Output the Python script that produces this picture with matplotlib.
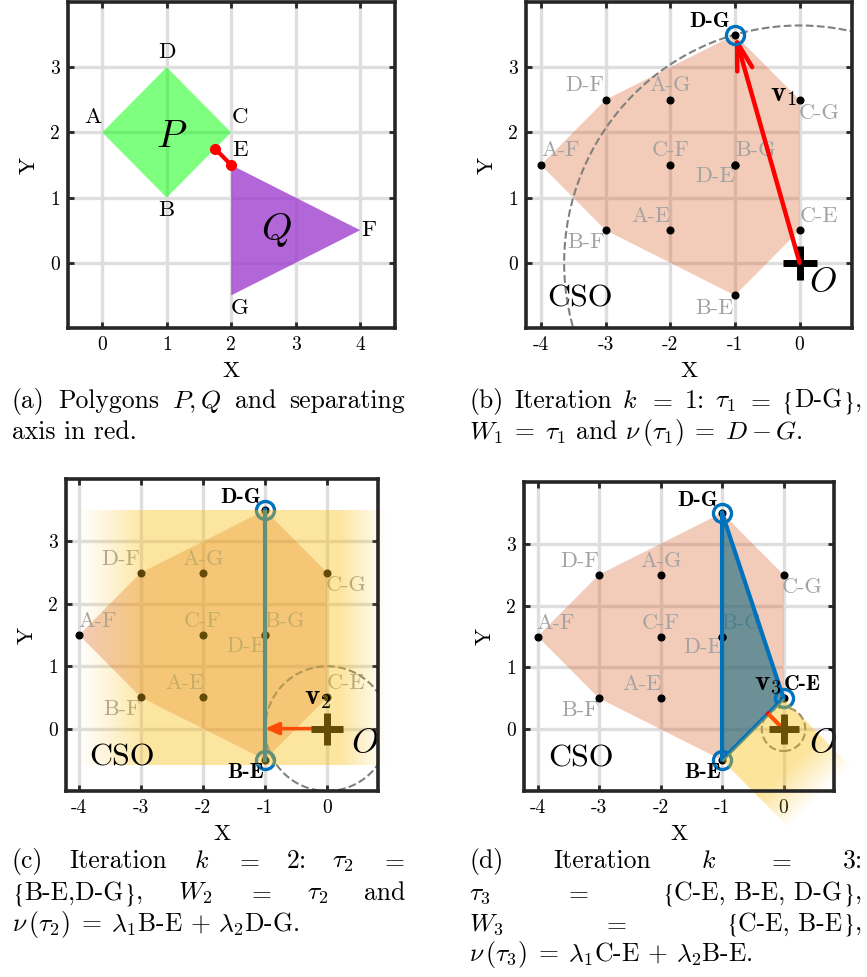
import numpy as np
import matplotlib.pyplot as plt
from matplotlib.patches import Polygon, Circle
from matplotlib.transforms import IdentityTransform

plt.rcParams['font.family'] = 'cmr10'
plt.rcParams['mathtext.fontset'] = 'cm'
plt.rcParams['axes.unicode_minus'] = False

# polygon P and Q vertices (panel a)
p_names = ['A', 'B', 'C', 'D']
p_x = [0, 1, 2, 1]
p_y = [2, 1, 2, 3]
q_names = ['E', 'F', 'G']
q_x = [2, 4, 2]
q_y = [1.5, 0.5, -0.5]

# separating axis end points
sep_x = [1.75, 2.0]
sep_y = [1.75, 1.5]

# CSO (Minkowski difference P - Q)
cso = {}
for pn, px, py in zip(p_names, p_x, p_y):
    for qn, qx, qy in zip(q_names, q_x, q_y):
        cso[pn + '-' + qn] = (px - qx, py - qy)
hull_order = ['A-F', 'D-F', 'D-G', 'C-G', 'C-E', 'B-E', 'B-F']

# simplex of each iteration
simplex_b = ['D-G']
simplex_c = ['D-G', 'B-E']
simplex_d = ['D-G', 'B-E', 'C-E']
closest_c = (-1.0, 0.0)
closest_d = (-0.25, 0.25)

# label offsets
lab_a = {'A': (-0.14, 0.23), 'B': (0, -0.2), 'C': (0.14, 0.23), 'D': (0, 0.23),
         'E': (0.13, 0.23), 'F': (0.13, 0), 'G': (0.14, -0.2)}
lab_cso = {'D-F': (-0.32, 0.22), 'A-G': (0, 0.22), 'A-F': (0.3, 0.22),
           'C-F': (0, 0.22), 'B-G': (0.32, 0.22), 'D-E': (-0.31, -0.18),
           'A-E': (-0.3, 0.22), 'C-E': (0.3, 0.22), 'B-F': (-0.3, -0.19),
           'C-G': (0.31, -0.2), 'B-E': (-0.31, -0.2), 'D-G': (-0.39, 0.2)}

BLUE = '#0072BD'
GRAYTXT = '0.64'
W, H = 867, 977

fig = plt.figure(figsize=(W / 100, H / 100), dpi=100)


def make_ax(left, top, right, bottom, xlim, xt):
    ax = fig.add_axes([left / W, 1 - bottom / H, (right - left) / W, (bottom - top) / H])
    ax.set_xlim(xlim)
    ax.set_ylim(-1, 4)
    ax.set_xticks(xt)
    ax.set_xticklabels([str(v) for v in xt])
    ax.set_yticks([0, 1, 2, 3])
    ax.set_yticklabels(['0', '1', '2', '3'])
    ax.grid(True, color='0.87', lw=2.4)
    ax.set_axisbelow(True)
    ax.tick_params(direction='in', length=4, width=2, top=True, right=True,
                   labelsize=14, pad=6, color='0.15')
    for s in ax.spines.values():
        s.set_linewidth(2.6)
        s.set_color('0.15')
        s.set_zorder(4)
    ax.set_xlabel('X', fontsize=16.5, labelpad=5)
    ax.set_ylabel('Y', fontsize=16.5, labelpad=8)
    return ax


def draw_cso(ax, bold):
    ax.add_patch(Polygon([cso[n] for n in hull_order], closed=True,
                         facecolor=(0.85, 0.325, 0.098), alpha=0.3,
                         edgecolor='none', zorder=0.8))
    xs = [v[0] for v in cso.values()]
    ys = [v[1] for v in cso.values()]
    ax.plot(xs, ys, 'o', color='k', ms=4.8, zorder=2)
    for n, (x, y) in cso.items():
        dx, dy = lab_cso[n]
        if n in bold:
            ax.text(x + dx, y + dy, n, family='cmb10', fontsize=15.5,
                    ha='center', va='center', zorder=3)
        else:
            ax.text(x + dx, y + dy, n, color=GRAYTXT, fontsize=16,
                    ha='center', va='center', zorder=0.9)


# ---------------- (a)
ax = make_ax(68, 2, 395, 328, (-0.53, 4.54), [0, 1, 2, 3, 4])
ax.add_patch(Polygon(list(zip(p_x, p_y)), closed=True, facecolor=(0, 1, 0),
                     alpha=0.5, edgecolor='none'))
ax.add_patch(Polygon(list(zip(q_x, q_y)), closed=True, facecolor='#9933cc',
                     alpha=0.75, edgecolor='none'))
ax.plot(sep_x, sep_y, '-o', color='r', lw=3, ms=7)
for n, x, y in zip(p_names + q_names, p_x + q_x, p_y + q_y):
    dx, dy = lab_a[n]
    ax.text(x + dx, y + dy, n, fontsize=16.5, ha='center', va='center')
ax.text(1.08, 1.93, '$P$', fontsize=28, ha='center', va='center')
ax.text(2.7, 0.5, '$Q$', fontsize=28, ha='center', va='center')

# ---------------- (b)
ax = make_ax(526, 2, 852, 328, (-4.23, 0.81), [-4, -3, -2, -1, 0])
draw_cso(ax, simplex_b)
ax.add_patch(Circle((0, 0), np.hypot(*cso['D-G']), fill=False, ls='--',
                    color='0.5', lw=1.5, zorder=1.5))
ax.annotate('', xy=cso['D-G'], xytext=(0, 0),
            arrowprops=dict(arrowstyle='->,head_length=1.0,head_width=0.28',
                            color='r', lw=3.2, shrinkA=0, shrinkB=0,
                            mutation_scale=20), zorder=2.1)
ax.plot(*cso['D-G'], 'o', mfc='none', mec=BLUE, ms=13, mew=2.4, zorder=2.2)
ax.plot(0, 0, '+', color='k', ms=24, mew=5, zorder=2)
ax.text(-0.24, 2.57, r'$\mathbf{v}_1$', fontsize=21, ha='center', va='center')
ax.text(-3.39, -0.55, 'CSO', fontsize=23, ha='center', va='center')
ax.text(0.36, -0.3, '$O$', fontsize=25, ha='center', va='center')

# ---------------- (c)
ax = make_ax(66, 479, 378, 791, (-4.21, 0.82), [-4, -3, -2, -1, 0])
draw_cso(ax, simplex_c)
ax.add_patch(Circle((0, 0), 1.0, fill=False, ls='--', color='0.5', lw=1.5, zorder=1.5))
sx = [cso[n][0] for n in simplex_c]
sy = [cso[n][1] for n in simplex_c]
ax.plot(sx, sy, '-', color=BLUE, lw=3, zorder=2)
ax.plot(sx, sy, 'o', mfc='none', mec=BLUE, ms=13, mew=2.4, zorder=2.05)
ax.annotate('', xy=closest_c, xytext=(0, 0),
            arrowprops=dict(arrowstyle='-|>,head_length=0.4,head_width=0.18',
                            color='r', lw=2.5, shrinkA=0, shrinkB=0,
                            mutation_scale=20), zorder=2)
ax.plot(0, 0, '+', color='k', ms=23, mew=5, zorder=2)
gx = np.linspace(-4.0, 1.0, 500)
alpha_c = 0.4 * np.clip((gx + 4.0) / 1.1, 0, 1) * np.clip((0.95 - gx) / 0.75, 0, 1)
img = np.zeros((2, gx.size, 4))
img[..., 0], img[..., 1], img[..., 2] = 0.98, 0.75, 0.07
img[..., 3] = alpha_c
ax.imshow(img, extent=[-4.0, 1.0, -0.58, 3.5], origin='lower', aspect='auto',
          interpolation='bilinear', zorder=2.2, clip_on=False)
ax.text(-0.15, 0.49, r'$\mathbf{v}_2$', fontsize=21, ha='center', va='center', zorder=3)
ax.text(-3.31, -0.47, 'CSO', fontsize=23, ha='center', va='center', zorder=3)
ax.text(0.61, -0.23, '$O$', fontsize=25, ha='center', va='center', zorder=3)
ax.set_xlim(-4.21, 0.82)
ax.set_ylim(-1, 4)

# ---------------- (d)
ax = make_ax(524, 482, 834, 791, (-4.22, 0.82), [-4, -3, -2, -1, 0])
draw_cso(ax, simplex_d)
tri = [cso[n] for n in simplex_d]
ax.add_patch(Polygon(tri, closed=True, facecolor=(0.08, 0.41, 0.5), alpha=0.6,
                     edgecolor='none', zorder=1))
tx = [v[0] for v in tri] + [tri[0][0]]
ty = [v[1] for v in tri] + [tri[0][1]]
ax.plot(tx, ty, '-', color=BLUE, lw=3, zorder=2)
ax.plot(tx[:-1], ty[:-1], 'o', mfc='none', mec=BLUE, ms=13, mew=2.4, zorder=2.05)
ax.add_patch(Circle((0, 0), np.hypot(*closest_d), fill=False, ls='--', color='0.5',
                    lw=1.5, zorder=1.5))
ax.plot([0, closest_d[0]], [0, closest_d[1]], '-', color='r', lw=3, zorder=2)
ax.plot(0, 0, '+', color='k', ms=22, mew=5, zorder=2)
b0 = np.array(cso['B-E'])
c0 = np.array(cso['C-E'])
ed = (c0 - b0) / np.hypot(*(c0 - b0))
nd = np.array([ed[1], -ed[0]])
xx, yy = np.meshgrid(np.linspace(-1.6, 1.4, 600), np.linspace(-2.0, 0.7, 600))
u = (xx - b0[0]) * ed[0] + (yy - b0[1]) * ed[1]
v = (xx - b0[0]) * nd[0] + (yy - b0[1]) * nd[1]
L = np.hypot(*(c0 - b0))
alpha_d = 0.42 * ((u >= 0) & (u <= L) & (v >= 0)) * np.clip((1.55 - v) / 0.7, 0, 1)
img = np.zeros(xx.shape + (4,))
img[..., 0], img[..., 1], img[..., 2] = 0.98, 0.75, 0.07
img[..., 3] = alpha_d
ax.imshow(img, extent=[-1.6, 1.4, -2.0, 0.7], origin='lower', aspect='auto',
          interpolation='bilinear', zorder=2.2, clip_on=False)
ax.text(-0.26, 0.74, r'$\mathbf{v}_3$', fontsize=21, ha='center', va='center', zorder=3)
ax.text(-3.29, -0.48, 'CSO', fontsize=23, ha='center', va='center', zorder=3)
ax.text(0.64, -0.23, '$O$', fontsize=25, ha='center', va='center', zorder=3)
ax.set_xlim(-4.22, 0.82)
ax.set_ylim(-1, 4)

# ---------------- captions
CAP = 18.5
renderer = fig.canvas.get_renderer()
LB = ('{', 'STIXGeneral')
RB = ('}', 'STIXGeneral')


def make_token(tok, y):
    pieces = tok if isinstance(tok, list) else [(tok, None)]
    ts, ws = [], []
    for s, fam in pieces:
        kw = {'family': fam} if fam else {}
        t = fig.text(0, H - y, s, fontsize=CAP, ha='left', va='baseline',
                     transform=IdentityTransform(), **kw)
        ts.append(t)
        ws.append(t.get_window_extent(renderer).width)
    return ts, ws


def cap_line(tokens, x0, x1, y, justify=True):
    made = [make_token(t, y) for t in tokens]
    widths = [sum(ws) for _, ws in made]
    if justify and len(made) > 1:
        gap = (x1 - x0 - sum(widths)) / (len(made) - 1)
    else:
        gap = 0
    x = x0
    for (ts, ws), w in zip(made, widths):
        xi = x
        for t, wi in zip(ts, ws):
            t.set_x(xi)
            xi += wi
        x += w + gap


cap_line(['(a)', 'Polygons', '$P,Q$', 'and', 'separating'], 12, 405, 408)
cap_line(['axis in red.'], 12, 405, 439, False)
cap_line(['(b)', 'Iteration', '$k$', '$=$', '$1$:', r'$\tau_1$', '$=$',
          [LB, ('D-G', None), RB, (',', None)]], 469, 862, 408)
cap_line([r'$W_1\;=\;\tau_1$ and $\nu\,(\tau_1)\;=\;D - G$.'], 469, 862, 439, False)
cap_line(['(c)', 'Iteration', '$k$', '$=$', '$2$:', r'$\tau_2$', '$=$'], 12, 405, 868)
cap_line([[LB, ('B-E,D-G', None), RB, (',', None)], '$W_2$', '$=$', r'$\tau_2$', 'and'],
         12, 405, 900)
cap_line([r'$\nu\,(\tau_2)\;=\;\lambda_1$B-E $+$ $\lambda_2$D-G.'], 12, 405, 931, False)
cap_line(['(d)', 'Iteration', '$k$', '$=$', '$3$:'], 469, 862, 868)
cap_line([r'$\tau_3$', '$=$', [LB, ('C-E, B-E, D-G', None), RB, (',', None)]],
         469, 862, 900)
cap_line(['$W_3$', '$=$', [LB, ('C-E, B-E', None), RB, (',', None)]], 469, 862, 931)
cap_line([r'$\nu\,(\tau_3)\;=\;\lambda_1$C-E $+$ $\lambda_2$B-E.'], 469, 862, 961, False)

fig.savefig('out.png', dpi=100)
